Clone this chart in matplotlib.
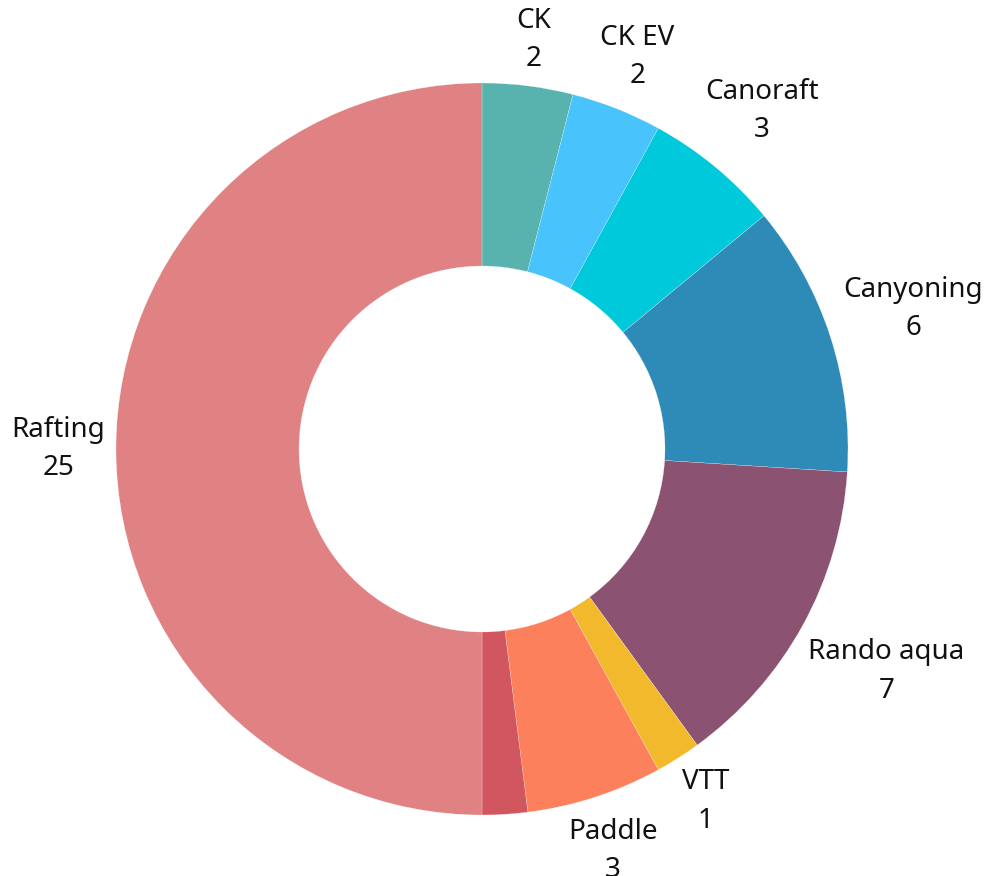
import numpy as np
import matplotlib
matplotlib.use("Agg")
import matplotlib.pyplot as plt

activities = ["CK", "CK EV", "Canoraft", "Canyoning", "Rando aqua", "VTT", "Paddle", "", "Rafting"]
counts = [2, 2, 3, 6, 7, 1, 3, 1, 25]
colors = ["#58b3ae", "#48c3fc", "#00c9db", "#2e8bb8", "#8b5271",
          "#f2b92c", "#fd805c", "#d2565f", "#e08283"]

plt.rcParams['font.family'] = ['Noto Sans', 'DejaVu Sans']

W, H = 993, 876
fig = plt.figure(figsize=(W / 100, H / 100), dpi=100)
# pie centre and outer radius in pixels
cx, cy, r = 482, 449, 366
ax = fig.add_axes([(cx - r) / W, (H - cy - r) / H, 2 * r / W, 2 * r / H])

wedges, _ = ax.pie(counts, colors=colors, startangle=90, counterclock=False,
                   radius=1, wedgeprops=dict(width=0.5, edgecolor="white", linewidth=0.15))
ax.set_xlim(-1, 1)
ax.set_ylim(-1, 1)

labels = []
for w, name, n in zip(wedges, activities, counts):
    if not name:
        continue  # label hidden in the original (too small)
    ang = np.deg2rad((w.theta1 + w.theta2) / 2)
    t = ax.text(0, 0, f"{name}\n{n}", ha="center", va="center",
                fontsize=20, linespacing=1.5, color="#111111")
    labels.append((t, ang))

# push each label out along the slice direction so its box clears the ring
fig.canvas.draw()
renderer = fig.canvas.get_renderer()
gap = 1.03
for t, ang in labels:
    bb = t.get_window_extent(renderer)
    dx, dy = np.cos(ang), np.sin(ang)
    d = bb.width / 2 * abs(dx) + bb.height / 2 * abs(dy)
    rad = gap + d / r
    t.set_position((rad * dx, rad * dy))

fig.savefig("out.png", dpi=100)
